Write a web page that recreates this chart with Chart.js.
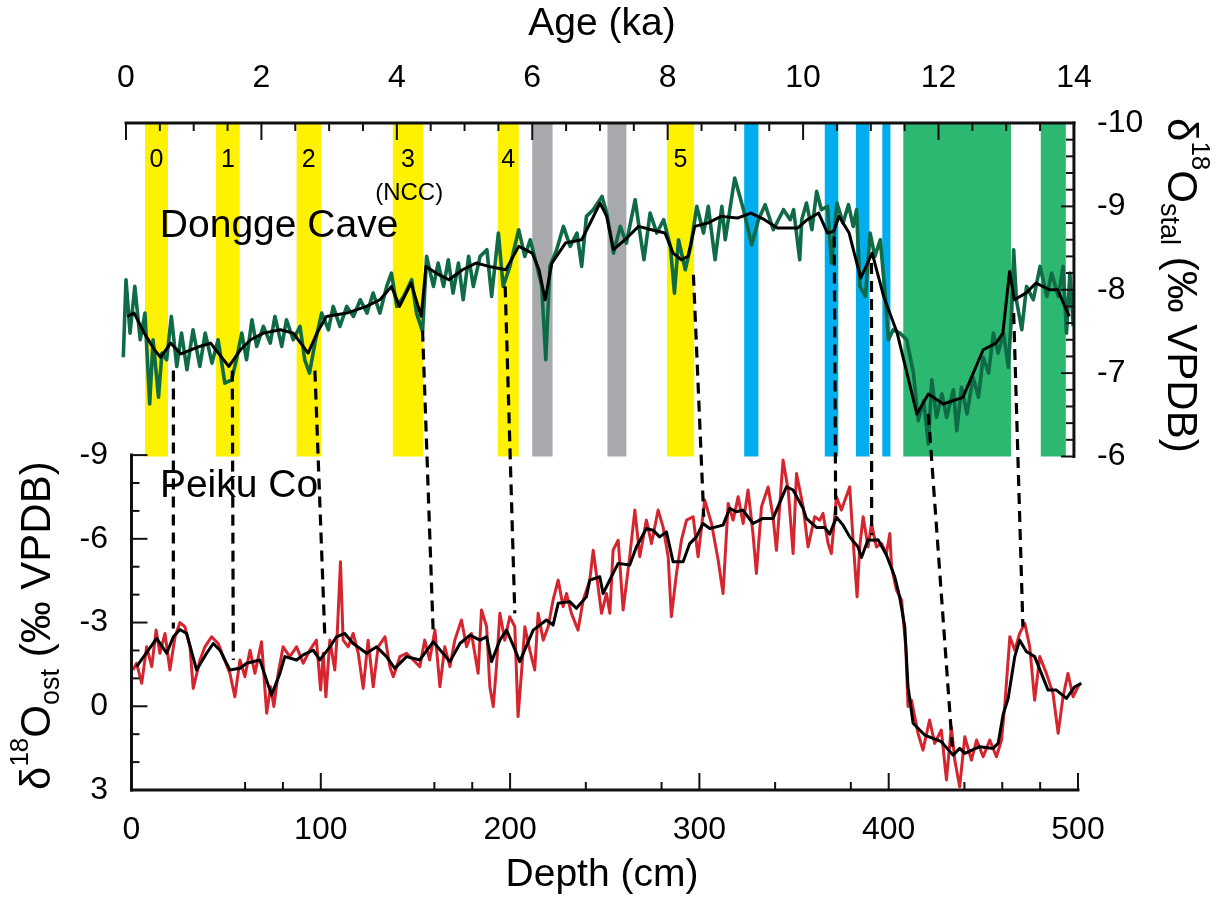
<!DOCTYPE html>
<html>
<head>
<meta charset="utf-8">
<title>Dongge Cave / Peiku Co</title>
<script src="https://cdn.jsdelivr.net/npm/chart.js@4.4.1/dist/chart.umd.min.js"></script>
<style>
  html, body { margin: 0; padding: 0; background: #fff; overflow: hidden; }
  #wrap { width: 1228px; height: 899px; position: relative; }
</style>
</head>
<body>
<div id="wrap"><canvas id="chart"></canvas></div>
<script>
// tick labels
const ageTicks = [0, 2, 4, 6, 8, 10, 12, 14];
const depthTicks = [0, 100, 200, 300, 400, 500];
const depthMinor = [60, 80, 160, 180, 240, 280, 340, 380, 440, 460, 480];
const stalTicks = [-10, -9, -8, -7, -6];
const ostTicks = [-9, -6, -3, 0, 3];

// event bands (ka)
const yellowBands = [[0.28, 0.62], [1.33, 1.68], [2.52, 2.88], [3.94, 4.39], [5.49, 5.80], [7.99, 8.39]];
const bandNames = ['0', '1', '2', '3', '4', '5'];
const grayBands = [[6.00, 6.30], [7.11, 7.39]];
const blueBands = [[9.13, 9.34], [10.32, 10.52], [10.78, 10.98], [11.17, 11.29]];
const greenBands = [[11.48, 13.07], [13.51, 13.88]];

// Dongge Cave d18O, [age ka, permil]
const donggeRaw = [
  [-0.04, -7.19], [0.00, -8.12], [0.06, -7.48], [0.13, -8.04], [0.21, -7.40], [0.28, -7.72], [0.35, -6.63],
  [0.40, -7.40], [0.48, -6.71], [0.53, -7.24], [0.60, -7.16], [0.67, -7.68], [0.75, -7.08], [0.82, -7.48],
  [0.90, -7.04], [0.99, -7.52], [1.09, -7.08], [1.17, -7.48], [1.27, -7.12], [1.36, -7.40], [1.46, -6.88],
  [1.56, -6.92], [1.63, -7.16], [1.71, -7.48], [1.78, -7.16], [1.86, -7.64], [1.93, -7.32], [2.03, -7.56],
  [2.13, -7.36], [2.20, -7.68], [2.30, -7.32], [2.37, -7.64], [2.47, -7.40], [2.57, -7.56], [2.64, -7.16],
  [2.71, -7.00], [2.79, -7.36], [2.89, -7.72], [2.99, -7.52], [3.06, -7.80], [3.16, -7.56], [3.26, -7.80],
  [3.36, -7.68], [3.46, -7.88], [3.56, -7.72], [3.65, -7.96], [3.75, -7.72], [3.85, -8.04], [3.92, -8.20],
  [4.00, -7.80], [4.10, -7.92], [4.22, -8.12], [4.29, -7.72], [4.38, -7.50], [4.44, -8.40], [4.54, -8.04],
  [4.61, -8.32], [4.69, -8.04], [4.76, -8.36], [4.83, -7.96], [4.91, -8.32], [4.98, -7.88], [5.06, -8.40],
  [5.13, -8.04], [5.23, -8.40], [5.33, -8.48], [5.40, -7.92], [5.50, -8.68], [5.57, -8.04], [5.67, -8.28],
  [5.80, -8.72], [5.89, -8.40], [5.97, -8.60], [6.07, -8.28], [6.14, -8.04], [6.20, -7.16], [6.26, -8.28],
  [6.36, -8.48], [6.46, -8.76], [6.56, -8.52], [6.66, -8.68], [6.73, -8.28], [6.80, -8.88], [6.90, -8.96],
  [7.03, -9.12], [7.10, -8.92], [7.20, -8.44], [7.30, -8.76], [7.39, -8.56], [7.52, -9.08], [7.59, -8.68],
  [7.65, -8.36], [7.74, -8.92], [7.84, -8.68], [7.94, -8.84], [8.04, -8.52], [8.10, -7.96], [8.16, -8.60],
  [8.26, -8.24], [8.34, -8.52], [8.43, -9.00], [8.53, -8.68], [8.60, -9.00], [8.70, -8.36], [8.80, -9.00],
  [8.85, -8.60], [8.99, -9.34], [9.12, -8.96], [9.24, -8.54], [9.34, -8.84], [9.44, -9.02], [9.56, -8.72],
  [9.71, -8.96], [9.81, -8.84], [9.86, -8.96], [9.95, -8.36], [9.98, -8.84], [10.05, -9.04], [10.13, -8.72],
  [10.20, -9.18], [10.27, -8.96], [10.36, -9.00], [10.42, -8.32], [10.50, -9.04], [10.59, -8.80], [10.67, -9.02],
  [10.74, -8.76], [10.79, -8.96], [10.84, -8.04], [10.92, -7.92], [10.99, -8.68], [11.06, -8.40], [11.14, -8.60],
  [11.21, -7.96], [11.26, -7.40], [11.33, -7.52], [11.43, -7.48], [11.53, -7.40], [11.63, -7.00], [11.70, -6.43],
  [11.78, -6.67], [11.85, -6.15], [11.90, -6.92], [11.97, -6.47], [12.05, -6.75], [12.12, -6.47], [12.22, -6.80],
  [12.27, -6.31], [12.34, -6.83], [12.42, -6.51], [12.51, -6.95], [12.59, -6.71], [12.66, -7.19], [12.74, -7.00],
  [12.81, -7.48], [12.88, -7.24], [12.96, -7.48], [13.03, -7.07], [13.08, -7.72], [13.11, -8.48], [13.15, -7.88],
  [13.23, -7.52], [13.30, -8.04], [13.40, -7.88], [13.50, -8.28], [13.60, -7.92], [13.67, -8.20], [13.77, -7.92],
  [13.84, -8.28], [13.89, -7.48], [13.94, -8.20], [13.99, -7.56]
];
const donggeSmooth = [
  [0.02, -7.68], [0.12, -7.72], [0.27, -7.48], [0.42, -7.28], [0.51, -7.19], [0.66, -7.36], [0.81, -7.23],
  [1.05, -7.31], [1.25, -7.36], [1.44, -7.16], [1.52, -7.08], [1.69, -7.28], [1.84, -7.40], [2.03, -7.48],
  [2.28, -7.52], [2.47, -7.48], [2.69, -7.24], [2.82, -7.48], [2.96, -7.68], [3.26, -7.72], [3.55, -7.80],
  [3.75, -7.88], [3.92, -8.04], [4.04, -7.80], [4.21, -8.08], [4.36, -7.68], [4.43, -8.28], [4.58, -8.20],
  [4.77, -8.12], [4.97, -8.24], [5.17, -8.32], [5.36, -8.28], [5.61, -8.24], [5.80, -8.52], [6.00, -8.44],
  [6.10, -8.24], [6.19, -7.88], [6.29, -8.32], [6.49, -8.56], [6.73, -8.60], [6.88, -8.84], [7.00, -9.04],
  [7.10, -8.88], [7.20, -8.48], [7.37, -8.60], [7.57, -8.76], [7.76, -8.72], [7.96, -8.68], [8.08, -8.44],
  [8.20, -8.36], [8.30, -8.40], [8.40, -8.76], [8.59, -8.80], [8.79, -8.88], [9.03, -8.86], [9.23, -8.92],
  [9.43, -8.84], [9.62, -8.74], [9.92, -8.74], [10.06, -8.84], [10.23, -8.92], [10.36, -8.68], [10.45, -8.70],
  [10.53, -8.88], [10.68, -8.68], [10.85, -8.14], [11.02, -8.44], [11.19, -7.92], [11.39, -7.48], [11.68, -6.51],
  [11.85, -6.75], [12.07, -6.63], [12.36, -6.71], [12.66, -7.28], [12.85, -7.36], [12.95, -7.48], [13.05, -8.22],
  [13.12, -7.88], [13.29, -7.96], [13.44, -8.08], [13.64, -8.00], [13.76, -8.00], [13.93, -7.68]
];

// Peiku Co ostracod d18O, [depth cm, permil]
const peikuRaw = [
  [0.8, -1.30], [2.7, -1.54], [5.4, -0.82], [8.0, -2.13], [10.7, -1.42], [13.0, -2.73], [15.0, -1.90],
  [17.7, -2.61], [20.3, -1.30], [23.0, -2.49], [25.6, -3.00], [28.2, -2.85], [30.9, -2.13], [32.6, -0.64],
  [36.2, -1.66], [38.8, -2.13], [42.3, -2.49], [45.8, -2.25], [48.5, -1.78], [52.0, -1.18], [54.6, -0.34],
  [57.3, -1.66], [59.9, -1.06], [62.6, -2.01], [65.2, -1.18], [68.7, -2.31], [71.4, 0.25], [73.5, -0.70],
  [75.2, 0.01], [77.5, -1.18], [80.1, -2.13], [83.6, -1.78], [87.2, -2.13], [90.7, -1.54], [94.2, -2.01],
  [97.7, -2.37], [99.9, -0.58], [101.3, -1.90], [102.7, -0.34], [104.8, -2.37], [107.4, -1.30], [108.7, -2.61],
  [110.4, -5.18], [111.8, -2.37], [114.5, -2.13], [117.1, -2.61], [119.8, -1.90], [122.4, -0.64], [125.0, -2.37],
  [127.7, -0.70], [130.3, -2.13], [133.9, -2.49], [136.5, -1.42], [138.3, -1.06], [141.8, -1.78], [145.3, -1.90],
  [148.8, -1.66], [152.3, -1.42], [154.9, -2.37], [157.5, -1.66], [160.3, -2.73], [162.9, -0.70], [165.5, -2.13],
  [168.2, -1.42], [170.8, -2.37], [174.3, -3.09], [177.0, -2.13], [179.6, -2.61], [183.1, -1.18], [184.9, -3.45],
  [187.6, -2.85], [189.3, -0.70], [191.1, 0.01], [192.8, -1.42], [194.6, -3.33], [197.2, -2.37], [199.8, -3.21],
  [202.5, -2.85], [204.2, 0.37], [206.0, -1.18], [207.8, -2.85], [210.4, -2.01], [213.0, -1.30], [214.8, -3.33],
  [217.5, -2.37], [220.1, -2.85], [222.7, -3.80], [225.4, -4.52], [228.0, -3.57], [229.8, -4.04], [232.4, -3.33],
  [235.9, -2.73], [238.6, -3.80], [242.1, -4.52], [243.9, -5.59], [246.5, -4.28], [248.3, -3.33], [250.9, -4.04],
  [252.7, -3.33], [254.4, -5.59], [257.1, -5.95], [259.7, -3.45], [263.2, -5.36], [265.9, -7.03], [268.5, -5.36],
  [272.0, -6.67], [274.7, -5.83], [278.2, -7.03], [280.8, -6.43], [283.5, -5.36], [285.2, -3.21], [287.9, -4.76],
  [290.5, -5.95], [293.2, -6.67], [296.7, -6.79], [299.3, -5.36], [302.8, -7.39], [306.4, -6.55], [309.9, -5.24],
  [312.5, -4.04], [315.2, -7.27], [317.8, -6.67], [320.5, -7.51], [323.1, -6.55], [325.7, -7.75], [328.3, -6.19],
  [330.1, -4.76], [332.8, -7.15], [336.3, -7.86], [338.9, -6.79], [340.7, -5.59], [344.2, -8.82], [346.9, -7.75],
  [349.5, -5.47], [351.3, -8.34], [354.8, -7.15], [357.4, -5.71], [360.9, -6.79], [363.6, -6.67], [365.3, -6.91],
  [368.0, -5.83], [369.7, -5.47], [372.4, -7.51], [375.0, -7.03], [379.4, -7.86], [381.2, -5.95], [383.3, -3.92],
  [384.7, -5.71], [386.5, -6.79], [389.1, -5.71], [390.9, -6.55], [393.5, -5.71], [396.2, -5.83], [398.8, -5.47],
  [400.6, -6.19], [401.5, -5.00], [404.1, -4.16], [406.8, -3.80], [409.0, -2.13], [410.2, 0.01], [412.0, -0.22],
  [415.5, 0.97], [418.1, 1.57], [421.6, 0.49], [424.3, 1.33], [427.8, 0.85], [430.5, 2.64], [433.1, 0.73],
  [434.9, 1.93], [437.5, 2.88], [440.2, 1.09], [443.7, 1.93], [446.4, 1.21], [449.9, 1.81], [453.4, 1.21],
  [456.9, 1.81], [459.6, 1.21], [461.4, -0.10], [464.0, -2.49], [466.6, -2.01], [469.2, -2.61], [471.9, -2.97],
  [474.5, -2.13], [477.1, -0.22], [479.8, -1.78], [483.3, -1.18], [486.8, -0.46], [489.5, 0.97], [492.1, -0.34],
  [494.7, -1.18], [497.4, -0.34], [500.9, -0.82], [504.5, -1.12]
];
const peikuSmooth = [
  [2.7, -1.42], [13.3, -2.43], [18.6, -1.90], [22.1, -2.49], [25.6, -2.75], [29.1, -2.61], [34.4, -1.30],
  [39.7, -1.90], [43.2, -2.25], [46.7, -2.01], [52.0, -1.30], [57.3, -1.36], [60.8, -1.54], [67.8, -1.66],
  [74.0, -0.40], [78.4, -1.18], [81.0, -1.78], [87.2, -1.66], [90.7, -1.84], [96.0, -2.01], [99.5, -1.66],
  [104.8, -2.13], [108.3, -2.49], [112.7, -2.61], [117.1, -2.25], [124.2, -1.90], [129.5, -2.13], [134.7, -1.78],
  [139.1, -1.36], [145.3, -1.78], [152.3, -1.66], [159.4, -2.31], [168.2, -1.60], [173.5, -2.25], [178.8, -2.55],
  [184.1, -2.37], [187.6, -2.49], [190.2, -1.60], [194.6, -2.37], [198.1, -2.73], [201.6, -2.19], [205.1, -1.60],
  [212.2, -2.73], [219.2, -3.09], [222.7, -2.91], [225.4, -3.69], [231.5, -3.75], [235.0, -3.51], [240.3, -3.92],
  [242.1, -4.52], [247.4, -4.64], [249.1, -4.04], [254.4, -4.76], [257.1, -5.12], [263.2, -5.06], [266.7, -5.71],
  [272.0, -6.37], [275.5, -6.31], [279.0, -6.07], [282.6, -6.25], [286.1, -5.18], [291.4, -5.18], [294.9, -5.83],
  [298.4, -6.07], [301.9, -6.55], [305.5, -6.37], [312.5, -6.49], [316.0, -7.09], [319.5, -6.97], [323.0, -7.03],
  [328.3, -6.55], [333.6, -6.73], [338.9, -6.73], [346.0, -7.86], [349.5, -7.75], [354.8, -7.09], [356.5, -6.73],
  [361.8, -6.41], [366.2, -6.41], [368.8, -6.17], [372.4, -6.77], [375.9, -6.49], [379.4, -6.07], [383.8, -5.71],
  [385.6, -5.33], [389.1, -5.97], [391.7, -5.95], [394.4, -5.97], [398.8, -5.42], [403.2, -4.64], [405.8, -3.92],
  [408.5, -2.85], [410.2, -0.70], [412.9, 0.61], [419.0, 1.03], [423.4, 1.15], [427.8, 1.27], [434.0, 1.75],
  [437.5, 1.51], [440.2, 1.69], [448.1, 1.45], [455.1, 1.51], [457.8, 1.33], [460.4, 0.31], [463.1, -0.28],
  [466.6, -1.78], [469.2, -2.37], [472.7, -1.96], [477.1, -1.78], [484.2, -0.58], [488.6, -0.58], [493.9, -0.28],
  [498.3, -0.70], [501.8, -0.82], [504.5, -0.82]
];

// tie points between the two records
const tieAge = [0.70, 1.57, 2.79, 4.38, 5.60, 8.38, 10.46, 11.01, 11.85, 13.11];
const tieStal = [-7.03, -7.03, -7.03, -7.51, -8.04, -8.18, -8.64, -8.32, -6.51, -7.72];
const tieDepth = [22.1, 53.8, 102.2, 159.4, 202.5, 302.3, 372.0, 391.0, 433.6, 470.9];
const tieOst = [-2.79, -1.66, -2.37, -2.61, -3.33, -6.79, -6.85, -6.13, 1.45, -2.85];

const FONT = 'Liberation Sans';
const tickFont = { family: FONT, size: 32 };
const titleFont = { family: FONT, size: 39 };
const toXY = arr => arr.map(([x, y]) => ({ x, y }));

function drawRich(ctx, parts, x, y, rot) {
  ctx.save();
  ctx.translate(x, y);
  ctx.rotate(rot);
  ctx.textAlign = 'left';
  ctx.textBaseline = 'alphabetic';
  let cx = 0;
  parts.forEach(p => {
    ctx.font = `${p.size}px "${FONT}"`;
    ctx.fillText(p.t, cx, p.dy || 0);
    cx += ctx.measureText(p.t).width;
  });
  ctx.restore();
}

const panels = {
  id: 'panels',
  beforeDatasetsDraw(chart) {
    const { ctx, scales: { age, stal } } = chart;
    const top = stal.getPixelForValue(-10);
    const bottom = stal.getPixelForValue(-6);
    const fill = (list, color) => list.forEach(([a, b]) => {
      const x0 = age.getPixelForValue(a);
      const x1 = age.getPixelForValue(b);
      ctx.fillStyle = color;
      ctx.fillRect(x0, top, x1 - x0, bottom - top);
    });
    ctx.save();
    fill(yellowBands, '#fff200');
    fill(grayBands, '#a7a9ac');
    fill(blueBands, '#00aeef');
    fill(greenBands, '#2db872');
    ctx.fillStyle = '#000';
    ctx.font = `25px "${FONT}"`;
    ctx.textAlign = 'center';
    yellowBands.forEach(([a, b], i) => {
      ctx.fillText(bandNames[i], age.getPixelForValue((a + b) / 2), stal.getPixelForValue(-9.47));
    });
    ctx.restore();
  },
  afterDatasetsDraw(chart) {
    const { ctx, chartArea, scales: { age, depth, stal, ost } } = chart;
    const line = (x0, y0, x1, y1) => { ctx.beginPath(); ctx.moveTo(x0, y0); ctx.lineTo(x1, y1); ctx.stroke(); };
    ctx.save();

    // dashed tie lines
    ctx.strokeStyle = '#000';
    ctx.lineWidth = 3.2;
    ctx.setLineDash([11, 7]);
    tieAge.forEach((a, i) => {
      line(age.getPixelForValue(a), stal.getPixelForValue(tieStal[i]),
           depth.getPixelForValue(tieDepth[i]), ost.getPixelForValue(tieOst[i]));
    });
    ctx.setLineDash([]);

    // axis frames
    const a0 = age.getPixelForValue(0), a14 = age.getPixelForValue(14);
    const sTop = stal.getPixelForValue(-10), sBot = stal.getPixelForValue(-6);
    const d0 = depth.getPixelForValue(0), d500 = depth.getPixelForValue(500);
    const oTop = ost.getPixelForValue(-9), oBot = ost.getPixelForValue(3);
    ctx.strokeStyle = '#111';
    ctx.lineWidth = 3;
    ctx.lineCap = 'square';
    line(a0, sTop, a14, sTop);
    line(a14, sTop, a14, sBot);
    line(d0, oTop, d0, oBot);
    line(d0, oBot, d500, oBot);

    // inward tick marks
    ctx.lineCap = 'butt';
    ctx.lineWidth = 2;
    for (let i = 0; i <= 28; i++) {
      const x = age.getPixelForValue(i / 2);
      line(x, sTop, x, sTop + (i % 4 === 0 ? 17 : 8));
    }
    for (let i = 0; i <= 20; i++) {
      const y = stal.getPixelForValue(-10 + i * 0.2);
      line(a14, y, a14 - (i % 5 === 0 ? 13 : 8), y);
    }
    for (let v = -9; v <= 3; v++) {
      const y = ost.getPixelForValue(v);
      line(d0, y, d0 + (v % 3 === 0 ? 16 : 8), y);
    }
    depthTicks.forEach(v => { const x = depth.getPixelForValue(v); line(x, oBot, x, oBot - 17); });
    depthMinor.forEach(v => { const x = depth.getPixelForValue(v); line(x, oBot, x, oBot - 8); });

    // record names
    ctx.fillStyle = '#000';
    ctx.textAlign = 'left';
    ctx.font = `39px "${FONT}"`;
    ctx.fillText('Dongge Cave', age.getPixelForValue(0.5), stal.getPixelForValue(-8.63));
    ctx.fillText('Peiku Co', depth.getPixelForValue(15), ost.getPixelForValue(-7.5));
    ctx.font = `24px "${FONT}"`;
    ctx.fillText('(NCC)', age.getPixelForValue(3.68), stal.getPixelForValue(-9.08));

    // y-axis titles with super/subscripts
    drawRich(ctx, [
      { t: 'δ', size: 42 }, { t: '18', size: 26, dy: -24 }, { t: 'O', size: 42 },
      { t: 'stal', size: 27, dy: 7 }, { t: ' (‰ VPDB)', size: 42 }
    ], chartArea.right + 90, sTop - 5, Math.PI / 2);
    drawRich(ctx, [
      { t: 'δ', size: 42 }, { t: '18', size: 26, dy: -22 }, { t: 'O', size: 42 },
      { t: 'ost', size: 27, dy: 9 }, { t: ' (‰ VPDB)', size: 42 }
    ], chartArea.left - 76, oBot, -Math.PI / 2);

    ctx.restore();
  }
};

const hiddenGrid = { display: false, drawTicks: false };
const noBorder = { display: false };

new Chart(document.getElementById('chart'), {
  type: 'line',
  data: {
    datasets: [
      { label: 'Dongge smooth', data: toXY(donggeSmooth), xAxisID: 'age', yAxisID: 'stal',
        borderColor: '#000', borderWidth: 3, order: 1 },
      { label: 'Peiku smooth', data: toXY(peikuSmooth), xAxisID: 'depth', yAxisID: 'ost',
        borderColor: '#000', borderWidth: 3, order: 1 },
      { label: 'Dongge Cave', data: toXY(donggeRaw), xAxisID: 'age', yAxisID: 'stal',
        borderColor: '#0f6b45', borderWidth: 3.6, order: 2 },
      { label: 'Peiku Co', data: toXY(peikuRaw), xAxisID: 'depth', yAxisID: 'ost',
        borderColor: '#d5262f', borderWidth: 3, order: 2 }
    ]
  },
  options: {
    responsive: true,
    maintainAspectRatio: false,
    animation: false,
    layout: { padding: 0 },
    elements: {
      point: { radius: 0, hoverRadius: 0 },
      line: { tension: 0, borderJoinStyle: 'round', fill: false }
    },
    datasets: { line: { clip: false } },
    plugins: { legend: { display: false }, tooltip: { enabled: false } },
    scales: {
      age: {
        type: 'linear', position: 'top', min: 0, max: 14.06,
        afterBuildTicks: s => { s.ticks = ageTicks.map(v => ({ value: v })); },
        afterFit: s => { s.height = 123; },
        grid: hiddenGrid, border: noBorder,
        ticks: { font: tickFont, color: '#000', padding: 26, maxRotation: 0, autoSkip: false, callback: v => String(v) },
        title: { display: true, text: 'Age (ka)', font: titleFont, color: '#000', padding: { top: 1, bottom: 0 } }
      },
      depth: {
        type: 'linear', position: 'bottom', min: -2.9, max: 500,
        afterBuildTicks: s => { s.ticks = depthTicks.map(v => ({ value: v })); },
        afterFit: s => { s.height = 109; },
        grid: hiddenGrid, border: noBorder,
        ticks: { font: tickFont, color: '#000', padding: 21, maxRotation: 0, autoSkip: false, callback: v => String(v) },
        title: { display: true, text: 'Depth (cm)', font: titleFont, color: '#000', padding: { top: 0, bottom: 0 } }
      },
      stal: {
        type: 'linear', position: 'right', reverse: true, min: -10, max: -2,
        afterBuildTicks: s => { s.ticks = stalTicks.map(v => ({ value: v })); },
        afterFit: s => { s.width = 150; },
        grid: hiddenGrid, border: noBorder,
        ticks: { font: tickFont, color: '#000', padding: 19, callback: v => String(v) }
      },
      ost: {
        type: 'linear', position: 'left', reverse: true, min: -20.9, max: 3,
        afterBuildTicks: s => { s.ticks = ostTicks.map(v => ({ value: v })); },
        afterFit: s => { s.width = 126; },
        grid: hiddenGrid, border: noBorder,
        ticks: { font: tickFont, color: '#000', padding: 18, callback: v => String(v) }
      }
    }
  },
  plugins: [panels]
});
</script>
</body>
</html>
